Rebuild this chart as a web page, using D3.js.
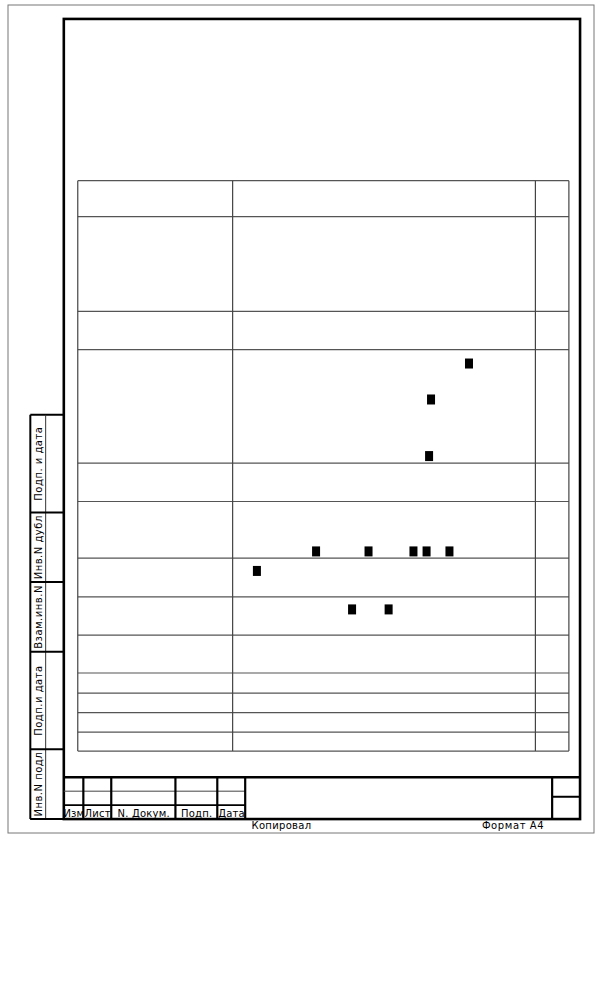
<!DOCTYPE html>
<html>
<head>
<meta charset="utf-8">
<script src="https://cdn.jsdelivr.net/npm/d3@7"></script>
<style>
  body { margin: 0; background: #fff; }
  text { font-family: "DejaVu Sans", sans-serif; fill: #000; }
</style>
</head>
<body>
<div id="sheet"></div>
<script>
// sheet is A4, everything below is in millimetres
var sheetW = 210, sheetH = 297;

// side strip labels, top to bottom
var sideLabels = ["Подп. и дата", "Инв.N дубл", "Взам.инв.N", "Подп.и дата", "Инв.N подл"];
var sideHeights = [35, 25, 25, 35, 25];

// title block header
var stampLabels = ["Изм", "Лист", "N. Докум.", "Подп.", "Дата"];
var stampWidths = [7, 10, 23, 15, 10];

// table grid
var tableCols = [25, 80.5, 189, 201];
var tableRows = [63, 75.9, 109.9, 123.6, 164.3, 178.1, 198.4, 212.3, 226, 239.6, 246.8, 253.8, 260.8, 267.6];

// points (mm)
var pointX = [165.2, 151.6, 150.9, 110.4, 129.2, 145.3, 150.0, 158.2, 89.2, 123.3, 136.4];
var pointY = [128.6, 141.5, 161.8, 196.0, 196.0, 196.0, 196.0, 196.0, 203.0, 216.8, 216.8];

var width = 606, height = 1000;

var x = d3.scaleLinear().domain([0, sheetW]).range([8, 594]);
var y = d3.scaleLinear().domain([0, sheetH]).range([5, 833]);

var svg = d3.select("#sheet").append("svg")
  .attr("width", width)
  .attr("height", height);

svg.append("rect").attr("width", width).attr("height", height).attr("fill", "#fff");

var defs = svg.append("defs");
defs.append("filter").attr("id", "soft")
  .append("feGaussianBlur").attr("stdDeviation", 0.6);

function line(g, x1, y1, x2, y2, w, c) {
  g.append("line")
    .attr("x1", x(x1)).attr("y1", y(y1))
    .attr("x2", x(x2)).attr("y2", y(y2))
    .attr("stroke", c || "#000")
    .attr("stroke-width", w);
}

function label(g, tx, ty, s, size, sp, rot) {
  return g.append("text")
    .attr("transform", "translate(" + tx + "," + ty + ")" + (rot ? " rotate(-90)" : ""))
    .attr("text-anchor", "middle")
    .attr("font-size", size)
    .attr("letter-spacing", sp)
    .text(s);
}

// outer sheet border
svg.append("rect")
  .attr("x", x(0)).attr("y", y(0))
  .attr("width", x(sheetW) - x(0)).attr("height", y(sheetH) - y(0))
  .attr("fill", "none").attr("stroke", "#777").attr("stroke-width", 1);

// table
var tbl = svg.append("g");
tableRows.forEach(function (r) {
  line(tbl, tableCols[0], r, tableCols[3], r, 1.2, "#555");
});
tableCols.forEach(function (c) {
  line(tbl, c, tableRows[0], c, tableRows[tableRows.length - 1], 1.2, "#444");
});

// points
svg.append("g").attr("filter", "url(#soft)")
  .selectAll("rect")
  .data(pointX.map(function (d, i) { return { px: d, py: pointY[i] }; }))
  .enter().append("rect")
  .attr("x", function (d) { return x(d.px) - 4; })
  .attr("y", function (d) { return y(d.py) - 5; })
  .attr("width", 8)
  .attr("height", 10)
  .attr("fill", "#000");

// main frame
svg.append("rect")
  .attr("x", x(20)).attr("y", y(5))
  .attr("width", x(205) - x(20)).attr("height", y(292) - y(5))
  .attr("fill", "none").attr("stroke", "#000").attr("stroke-width", 2.6);

// side strip
var side = svg.append("g");
var top0 = 292 - d3.sum(sideHeights);
line(side, 8, top0, 20, top0, 2);
line(side, 8, top0, 8, 292, 2);
line(side, 13.5, top0, 13.5, 292, 1, "#333");
line(side, 8, 292, 20, 292, 2);
var acc = top0;
sideLabels.forEach(function (lab, i) {
  var h = sideHeights[i];
  line(side, 8, acc + h, 20, acc + h, 2);
  label(side, 41.5, y(acc + h / 2), lab, 10, 0.5, true);
  acc += h;
});

// title block
var st = svg.append("g");
line(st, 20, 277, 205, 277, 2.4);
line(st, 20, 282, 20 + d3.sum(stampWidths), 282, 1, "#444");
line(st, 20, 287, 20 + d3.sum(stampWidths), 287, 1.8);
var cx = 20;
stampLabels.forEach(function (lab, i) {
  var w = stampWidths[i];
  label(st, x(cx + w / 2) + 0.3, y(291.3), lab, 10, 0.2, false);
  cx += w;
  line(st, cx, 277, cx, 292, 2.2);
});
line(st, 195, 277, 195, 292, 2.2);
line(st, 195, 284, 205, 284, 2);

// captions under the frame
label(svg, x(98), y(295.5), "Копировал", 10, 0.3, false);
label(svg, x(181), y(295.5), "Формат А4", 10, 0.6, false);
</script>
</body>
</html>
